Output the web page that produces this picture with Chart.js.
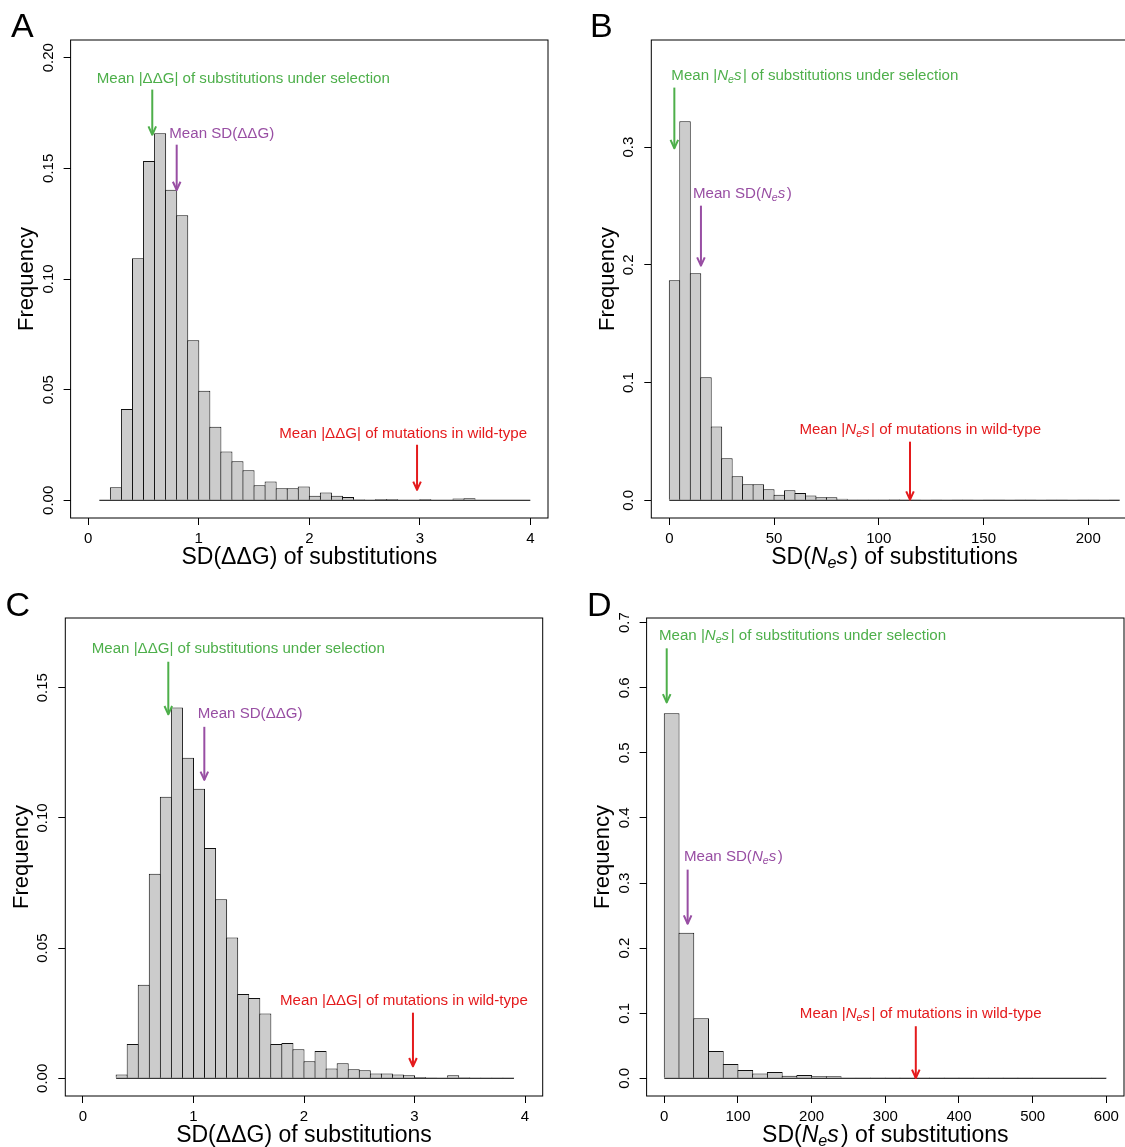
<!DOCTYPE html>
<html><head><meta charset="utf-8">
<script src="https://cdn.jsdelivr.net/npm/chart.js@4/dist/chart.umd.min.js"></script>
<style>
html,body{margin:0;padding:0;width:1125px;height:1147px;overflow:hidden;background:#fff;}
canvas{position:absolute;left:0;top:0;}
</style></head><body>
<canvas id="cA" width="1200" height="1200"></canvas>
<canvas id="cB" width="1200" height="1200"></canvas>
<canvas id="cC" width="1200" height="1200"></canvas>
<canvas id="cD" width="1200" height="1200"></canvas>
<script>
// ================= DATA =================
// Panel A : SD(ddG) histogram
const A_BIN_START = 0.1;
const A_BIN_WIDTH = 0.1;
const A_FREQ = [0, 0.0059, 0.0412, 0.1094, 0.1533, 0.1659, 0.1403, 0.1288, 0.0723, 0.0495,
  0.0332, 0.0220, 0.0176, 0.0136, 0.0068, 0.0085, 0.0054, 0.0054, 0.0062, 0.0021,
  0.0035, 0.0021, 0.0015, 0.0005, 0.0002, 0.0006, 0.0006, 0.0003, 0.0003, 0.0006,
  0.0003, 0.0003, 0.0008, 0.0009, 0, 0.0003, 0, 0.0003, 0.0003];
const A_X_TICKS = [0, 1, 2, 3, 4];
const A_X_LABELS = ['0', '1', '2', '3', '4'];
const A_Y_TICKS = [0, 0.05, 0.10, 0.15, 0.20];
const A_Y_LABELS = ['0.00', '0.05', '0.10', '0.15', '0.20'];
const A_MEANS = [0.579, 0.80, 2.975];   // under selection, mean SD, wild-type

// Panel B : SD(Nes) histogram
const B_BIN_START = 0;
const B_BIN_WIDTH = 5;
const B_FREQ = [0.1869, 0.3220, 0.1929, 0.1045, 0.0626, 0.0357, 0.0204, 0.0136, 0.0136, 0.0093,
  0.0048, 0.0085, 0.0062, 0.0040, 0.0025, 0.0025, 0.0014, 0.0006, 0.0003, 0.0003,
  0.0006, 0.0008, 0.0003, 0.0006, 0, 0.0003, 0, 0.0003, 0.0006, 0,
  0.0003, 0.0006, 0, 0.0003, 0.0003, 0, 0.0003, 0.0006, 0, 0.0003,
  0.0003, 0, 0.0003];
const B_X_TICKS = [0, 50, 100, 150, 200];
const B_X_LABELS = ['0', '50', '100', '150', '200'];
const B_Y_TICKS = [0, 0.1, 0.2, 0.3];
const B_Y_LABELS = ['0.0', '0.1', '0.2', '0.3'];
const B_MEANS = [2.4, 15.1, 114.9];

// Panel C : SD(ddG) histogram
const C_BIN_START = 0.3;
const C_BIN_WIDTH = 0.1;
const C_FREQ = [0.0015, 0.0132, 0.0359, 0.0786, 0.1081, 0.1424, 0.1231, 0.1112, 0.0885, 0.0688,
  0.0541, 0.0324, 0.0308, 0.0249, 0.0132, 0.0136, 0.0112, 0.0065, 0.0105, 0.0038,
  0.0058, 0.0035, 0.0031, 0.0018, 0.0018, 0.0015, 0.0012, 0.0005, 0.0003, 0,
  0.0012, 0.0004, 0.0001, 0.0001, 0.0001, 0.0001];
const C_X_TICKS = [0, 1, 2, 3, 4];
const C_X_LABELS = ['0', '1', '2', '3', '4'];
const C_Y_TICKS = [0, 0.05, 0.10, 0.15];
const C_Y_LABELS = ['0.00', '0.05', '0.10', '0.15'];
const C_MEANS = [0.772, 1.098, 2.986];

// Panel D : SD(Nes) histogram
const D_BIN_START = 0;
const D_BIN_WIDTH = 20;
const D_FREQ = [0.5610, 0.2236, 0.0923, 0.0421, 0.0221, 0.0128, 0.0072, 0.0097, 0.0041, 0.0051,
  0.0031, 0.0031, 0.0010, 0.0005, 0.0003, 0.0002, 0.0002, 0.0003, 0.0002, 0.0001,
  0.0001, 0, 0.0003, 0.0001, 0.0002, 0, 0, 0, 0, 0.0003];
const D_X_TICKS = [0, 100, 200, 300, 400, 500, 600];
const D_X_LABELS = ['0', '100', '200', '300', '400', '500', '600'];
const D_Y_TICKS = [0, 0.1, 0.2, 0.3, 0.4, 0.5, 0.6, 0.7];
const D_Y_LABELS = ['0.0', '0.1', '0.2', '0.3', '0.4', '0.5', '0.6', '0.7'];
const D_MEANS = [3.3, 31.7, 341.4];

// Texts
const DDG_ANN = [
  [['Mean |ΔΔG| of substitutions under selection', '']],
  [['Mean SD(ΔΔG)', '']],
  [['Mean |ΔΔG| of mutations in wild-type', '']]
];
const NES_ANN = [
  [['Mean |', ''], ['N', 'i'], ['e', 'sub'], ['s', 'i'], ['| of substitutions under selection', '']],
  [['Mean SD(', ''], ['N', 'i'], ['e', 'sub'], ['s', 'i'], [')', '']],
  [['Mean |', ''], ['N', 'i'], ['e', 'sub'], ['s', 'i'], ['| of mutations in wild-type', '']]
];
const DDG_TITLE = [['SD(ΔΔG) of substitutions', '']];
const NES_TITLE = [['SD(', ''], ['N', 'i'], ['e', 'sub'], ['s', 'i'], [') of substitutions', '']];
const Y_TITLE = 'Frequency';

// ================= LAYOUT / STYLE =================
const FAM = "'Liberation Sans', Arial, Helvetica, sans-serif";
const COLORS = ['#4daf4a', '#984ea3', '#e41a1c'];
const CANVAS = 1200;

const PANELS = [
  { id: 'cA', letter: 'A', letterPos: [11, 37.3], box: { l: 70.6, t: 40, r: 548, b: 518 },
    xlim: [0, 4], ylim: [0, 0.2], start: A_BIN_START, width: A_BIN_WIDTH, freq: A_FREQ,
    xTicks: A_X_TICKS, xLabels: A_X_LABELS, yTicks: A_Y_TICKS, yLabels: A_Y_LABELS,
    means: A_MEANS, ann: DDG_ANN, title: DDG_TITLE,
    annPos: [ { tx: 0.076, ty: 0.1887, y0: 0.1856, y1: 0.1652 },
              { tx: 0.733, ty: 0.1637, y0: 0.1607, y1: 0.1402 },
              { tx: 1.728, ty: 0.0282, y0: 0.0251, y1: 0.0047 } ] },
  { id: 'cB', letter: 'B', letterPos: [590, 37.3], box: { l: 651.3, t: 40, r: 1137.7, b: 518 },
    xlim: [0, 215], ylim: [0, 0.376], start: B_BIN_START, width: B_BIN_WIDTH, freq: B_FREQ,
    xTicks: B_X_TICKS, xLabels: B_X_LABELS, yTicks: B_Y_TICKS, yLabels: B_Y_LABELS,
    means: B_MEANS, ann: NES_ANN, title: NES_TITLE,
    annPos: [ { tx: 0.95, ty: 0.3572, y0: 0.3506, y1: 0.2991 },
              { tx: 11.3, ty: 0.2566, y0: 0.2503, y1: 0.1993 },
              { tx: 62.1, ty: 0.0563, y0: 0.0498, y1: 0.0005 } ] },
  { id: 'cC', letter: 'C', letterPos: [5.5, 616], box: { l: 65.3, t: 618, r: 542.7, b: 1096 },
    xlim: [0, 4], ylim: [0, 0.17], start: C_BIN_START, width: C_BIN_WIDTH, freq: C_FREQ,
    xTicks: C_X_TICKS, xLabels: C_X_LABELS, yTicks: C_Y_TICKS, yLabels: C_Y_LABELS,
    means: C_MEANS, ann: DDG_ANN, title: DDG_TITLE,
    annPos: [ { tx: 0.079, ty: 0.1635, y0: 0.1600, y1: 0.1398 },
              { tx: 1.038, ty: 0.1382, y0: 0.1350, y1: 0.1146 },
              { tx: 1.783, ty: 0.0282, y0: 0.0252, y1: 0.0046 } ] },
  { id: 'cD', letter: 'D', letterPos: [587, 616], box: { l: 646.6, t: 618, r: 1124, b: 1096 },
    xlim: [0, 600], ylim: [0, 0.68], start: D_BIN_START, width: D_BIN_WIDTH, freq: D_FREQ,
    xTicks: D_X_TICKS, xLabels: D_X_LABELS, yTicks: D_Y_TICKS, yLabels: D_Y_LABELS,
    means: D_MEANS, ann: NES_ANN, title: NES_TITLE,
    annPos: [ { tx: -7.2, ty: 0.6734, y0: 0.6606, y1: 0.5775 },
              { tx: 26.7, ty: 0.3334, y0: 0.3206, y1: 0.2375 },
              { tx: 184, ty: 0.0929, y0: 0.0800, y1: 0.0005 } ] }
];

const mctx = document.createElement('canvas').getContext('2d');
function textW(t, size) { mctx.font = size + 'px ' + FAM; return mctx.measureText(t).width; }

function drawRich(ctx, segs, x, y, size, color, align) {
  const parts = segs.map(([t, s], i) => {
    let f, dy = 0;
    if (s === 'i') f = 'italic ' + size + 'px ' + FAM;
    else if (s === 'sub') { f = 'italic ' + (size * 0.7) + 'px ' + FAM; dy = size * 0.2; }
    else f = size + 'px ' + FAM;
    ctx.font = f;
    let w = ctx.measureText(t).width;
    if (s === 'i' && segs[i + 1] && segs[i + 1][1] === '') w += size * 0.1;
    return { t, f, dy, w };
  });
  const total = parts.reduce((a, p) => a + p.w, 0);
  let cx = align === 'center' ? x - total / 2 : x;
  ctx.fillStyle = color;
  ctx.textAlign = 'left';
  ctx.textBaseline = 'alphabetic';
  parts.forEach(p => { ctx.font = p.f; ctx.fillText(p.t, cx, y + p.dy); cx += p.w; });
}

function arrow(ctx, x, y0, y1, color) {
  ctx.strokeStyle = color; ctx.lineWidth = 2; ctx.lineCap = 'butt'; ctx.lineJoin = 'round';
  ctx.beginPath(); ctx.moveTo(x, y0); ctx.lineTo(x, y1); ctx.stroke();
  ctx.beginPath(); ctx.moveTo(x - 3.8, y1 - 8.3); ctx.lineTo(x, y1); ctx.lineTo(x + 3.8, y1 - 8.3); ctx.stroke();
}

function makeDecor(p) {
  return {
    id: 'decor' + p.letter,
    afterDraw(chart) {
      const ctx = chart.ctx, ca = chart.chartArea;
      const xs = chart.scales.x, ys = chart.scales.y;
      ctx.save();
      ctx.strokeStyle = '#000'; ctx.lineWidth = 1;
      ctx.strokeRect(ca.left, ca.top, ca.right - ca.left, ca.bottom - ca.top);
      p.annPos.forEach((a, i) => {
        const x = xs.getPixelForValue(p.means[i]);
        arrow(ctx, x, ys.getPixelForValue(a.y0), ys.getPixelForValue(a.y1), COLORS[i]);
        drawRich(ctx, p.ann[i], xs.getPixelForValue(a.tx), ys.getPixelForValue(a.ty), 15.1, COLORS[i], 'left');
      });
      drawRich(ctx, p.title, (ca.left + ca.right) / 2, ca.bottom + 45.5, 23, '#000', 'center');
      ctx.font = '34px ' + FAM; ctx.fillStyle = '#000'; ctx.textAlign = 'left'; ctx.textBaseline = 'alphabetic';
      ctx.fillText(p.letter, p.letterPos[0], p.letterPos[1]);
      ctx.restore();
    }
  };
}

Chart.defaults.font.family = FAM;

PANELS.forEach(p => {
  const xr = p.xlim[1] - p.xlim[0], yr = p.ylim[1] - p.ylim[0];
  const xmin = p.xlim[0] - 0.04 * xr, xmax = p.xlim[1] + 0.04 * xr;
  const ymin = p.ylim[0] - 0.04 * yr, ymax = p.ylim[1] + 0.04 * yr;
  const binPx = (p.box.r - p.box.l) / (xmax - xmin) * p.width;
  const bars = p.freq.map((f, i) => ({ x: p.start + (i + 0.5) * p.width, y: f }));
  const lastBreak = p.start + p.freq.length * p.width;
  const widest = Math.max(...p.yLabels.map(t => textW(t, 15)));

  new Chart(document.getElementById(p.id), {
    type: 'bar',
    data: {
      datasets: [
        { type: 'line', data: [{ x: p.start, y: 0 }, { x: lastBreak, y: 0 }],
          borderColor: '#000', borderWidth: 1, pointRadius: 0, fill: false, tension: 0 },
        { type: 'bar', data: bars, backgroundColor: '#cccccc', borderColor: '#111',
          borderWidth: 1, borderSkipped: 'start', inflateAmount: 0,
          barPercentage: 1 + 1 / binPx, categoryPercentage: 1 }
      ]
    },
    options: {
      responsive: false, animation: false, devicePixelRatio: 1,
      layout: { padding: { left: p.box.l - 62, top: p.box.t, right: CANVAS - p.box.r, bottom: CANVAS - p.box.b - 50 } },
      plugins: { legend: { display: false }, tooltip: { enabled: false } },
      scales: {
        x: {
          type: 'linear', min: xmin, max: xmax, bounds: 'data', offset: false,
          afterBuildTicks: s => { s.ticks = p.xTicks.map(v => ({ value: v })); },
          afterFit: s => { s.height = 50; },
          grid: { display: true, offset: false, drawOnChartArea: false, drawTicks: true, tickLength: 7, color: '#000', lineWidth: 1 },
          border: { display: false },
          ticks: { autoSkip: false, maxRotation: 0, minRotation: 0, padding: 5, color: '#000',
                   font: { size: 15 }, callback: (v, i) => p.xLabels[i] }
        },
        y: {
          type: 'linear', min: ymin, max: ymax, bounds: 'data',
          afterBuildTicks: s => { s.ticks = p.yTicks.map(v => ({ value: v })); },
          afterFit: s => { s.width = 62; },
          grid: { display: true, offset: false, drawOnChartArea: false, drawTicks: true, tickLength: 7, color: '#000', lineWidth: 1 },
          border: { display: false },
          title: { display: true, text: Y_TITLE, color: '#000', font: { size: 22 }, padding: { top: 5, bottom: 0 } },
          ticks: { autoSkip: false, minRotation: 90, maxRotation: 90, crossAlign: 'center',
                   padding: 15 - widest / 2, color: '#000', font: { size: 15 },
                   callback: (v, i) => p.yLabels[i] }
        }
      }
    },
    plugins: [makeDecor(p)]
  });
});
</script>
</body></html>
